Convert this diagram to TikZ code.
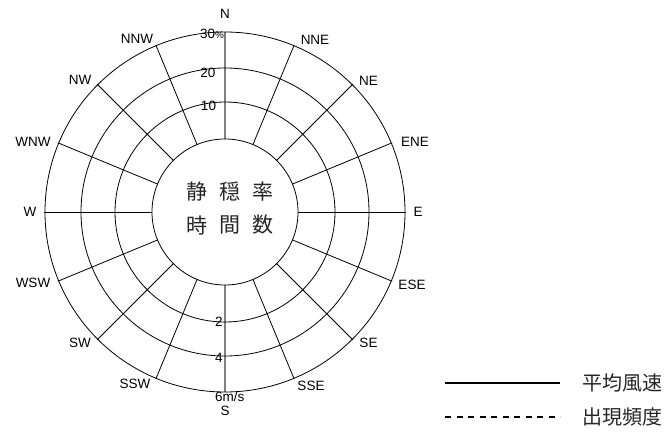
\documentclass[tikz,border=0pt]{standalone}
\usepackage{fontspec}
\usetikzlibrary{calc}
\setmainfont{Liberation Sans}
\newfontfamily\cjk{Noto Sans CJK JP}
\begin{document}
\begin{tikzpicture}[x=1pt,y=-1pt,
  ring/.style={draw=black,line width=0.8pt},
  spoke/.style={draw=black,line width=0.8pt},
  axisline/.style={draw=gray,line width=1.1pt},
  dirlab/.style={font=\fontsize{13.5}{13.5}\selectfont,inner sep=0pt},
  numlab/.style={font=\fontsize{13.5}{13.5}\selectfont,inner sep=0pt},
  cjklab/.style={font=\cjk\fontsize{21}{21}\selectfont,inner sep=0pt,text=black!85},
  leglab/.style={font=\cjk\fontsize{20}{20}\selectfont,inner sep=0pt,anchor=west,text=black!85}]
\useasboundingbox (0,0) rectangle (667,434);
\coordinate (c) at (225,212);
% spokes
\foreach \a in {0,22.5,45,67.5,112.5,135,157.5,180,202.5,225,247.5,292.5,315,337.5}{
  \draw[spoke] ($(c)+({73*cos(\a)},{-73*sin(\a)})$) -- ($(c)+({181*cos(\a)},{-181*sin(\a)})$);
}
\coordinate (ntop) at (225,32);
\coordinate (nin) at (225,139);
\coordinate (sin) at (225,285);
\coordinate (sbot) at (225,392);
\draw[axisline] (ntop) -- (nin);
\draw[axisline] (sin) -- (sbot);
% rings
\foreach \r in {73,110,144,180}{
  \draw[ring] (c) circle[radius=\r pt];
}
% direction labels
\node[dirlab] (lN) at (225,14) {N};
\node[dirlab] (lNNE) at (315,40) {NNE};
\node[dirlab] (lNE) at (368.5,81) {NE};
\node[dirlab] (lENE) at (415,142) {ENE};
\node[dirlab] (lE) at (418,212) {E};
\node[dirlab] (lESE) at (412,285) {ESE};
\node[dirlab] (lSE) at (368.5,343) {SE};
\node[dirlab] (lSSE) at (311,386) {SSE};
\node[dirlab] (lS) at (225,411) {S};
\node[dirlab] (lSSW) at (135,384) {SSW};
\node[dirlab] (lSW) at (80,343) {SW};
\node[dirlab] (lWSW) at (33,283) {WSW};
\node[dirlab] (lW) at (30,212) {W};
\node[dirlab] (lWNW) at (33,142) {WNW};
\node[dirlab] (lNW) at (80,80) {NW};
\node[dirlab] (lNNW) at (137,39) {NNW};
% scale labels
\node[numlab,anchor=west] (p30) at (200,34) {30{\fontsize{10}{10}\selectfont\%}};
\node[numlab] (p20) at (208,73) {20};
\node[numlab] (p10) at (208.5,106) {10};
\node[numlab] (v2) at (219,322) {2};
\node[numlab] (v4) at (219,358) {4};
\node[numlab,anchor=west] (v6) at (215,397) {6m/s};
% centre text
\node[cjklab] (k1) at (196.7,192) {静};
\node[cjklab] (k2) at (229.5,192) {穏};
\node[cjklab] (k3) at (262.5,192) {率};
\node[cjklab] (k4) at (196.7,225) {時};
\node[cjklab] (k5) at (229.5,225) {間};
\node[cjklab] (k6) at (262.5,225) {数};
% legend
\coordinate (l1a) at (445,383);
\coordinate (l1b) at (560,383);
\coordinate (l2a) at (445,417);
\coordinate (l2b) at (560,417);
\draw[line width=1.2pt] (l1a) -- (l1b);
\draw[line width=1.2pt,dash pattern=on 6pt off 5.5pt] (l2a) -- (l2b);
\node[leglab] (t1) at (582,383) {平均風速};
\node[leglab] (t2) at (582,417) {出現頻度};
\end{tikzpicture}
\end{document}
